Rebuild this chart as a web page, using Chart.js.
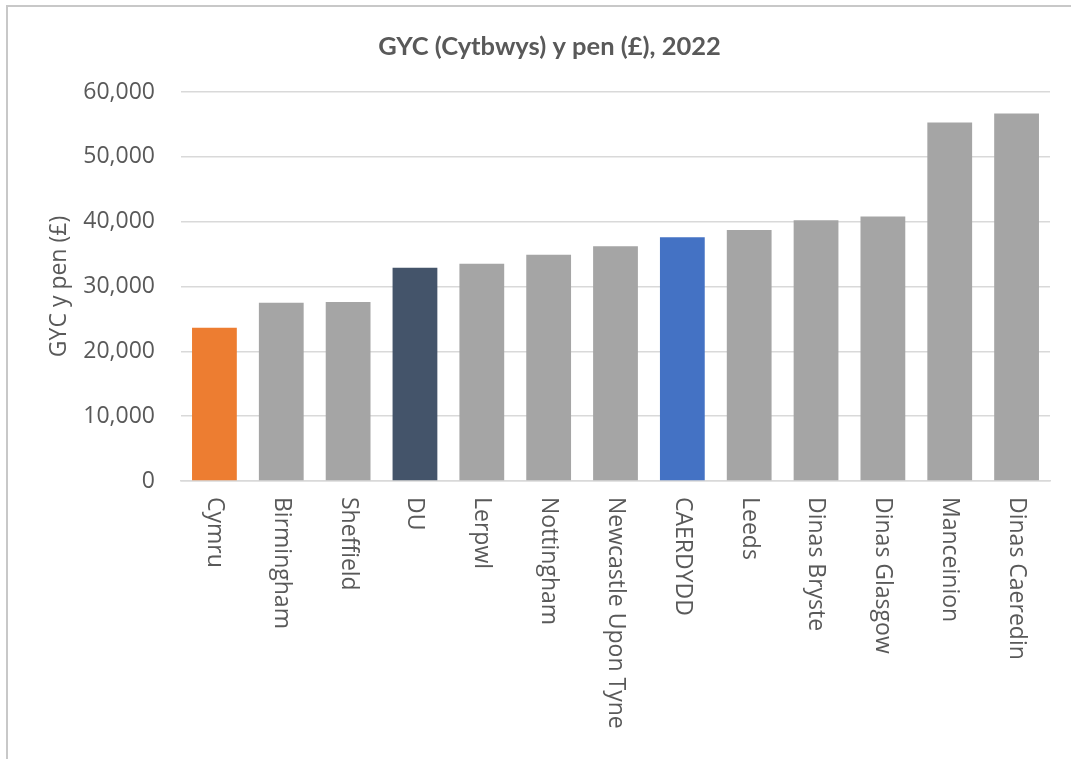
<!DOCTYPE html>
<html>
<head>
<meta charset="utf-8">
<script src="https://cdn.jsdelivr.net/npm/chart.js@4"></script>
<style>
  html, body { margin: 0; background: #fff; overflow: hidden; }
  #box {
    position: absolute; left: 6px; top: 5px;
    width: 1083px; height: 800px;
    border: 2px solid #c8c8c8; background: #fff;
  }
  canvas { display: block; }
</style>
</head>
<body>
<div id="box"><canvas id="gvaChart" width="1083" height="752"></canvas></div>
<script>
// GYC (Cytbwys) y pen, 2022
const places = ['Cymru', 'Birmingham', 'Sheffield', 'DU', 'Lerpwl', 'Nottingham',
    'Newcastle Upon Tyne', 'CAERDYDD', 'Leeds', 'Dinas Bryste', 'Dinas Glasgow',
    'Manceinion', 'Dinas Caeredin'];
const gvaPerHead = [23650, 27500, 27600, 32900, 33500, 34900, 36200, 37600, 38700,
    40200, 40800, 55300, 56700];
const yTicks = [0, 10000, 20000, 30000, 40000, 50000, 60000];
const chartTitle = 'GYC (Cytbwys) y pen (£), 2022';

const textGrey = '#595959';
const barColours = places.map(function(p) {
    if (p === 'Cymru') return '#ed7d31';
    if (p === 'DU') return '#44546a';
    if (p === 'CAERDYDD') return '#4472c4';
    return '#a5a5a5';
});

// title is centred on the whole chart box, which runs past the window
// x labels read top-to-bottom, so those are drawn here too
const extraText = {
    id: 'extraText',
    afterDraw(chart) {
        const xs = chart.scales.x;
        const ctx = chart.ctx;
        ctx.save();
        ctx.fillStyle = textGrey;
        ctx.textBaseline = 'middle';

        ctx.font = 'bold 25.5px Lato';
        ctx.textAlign = 'center';
        ctx.fillText(chartTitle, chart.width / 2, 40);

        ctx.font = '23px "Open Sans"';
        ctx.textAlign = 'left';
        places.forEach(function(name, i) {
            ctx.save();
            ctx.translate(xs.getPixelForTick(i), xs.top + 16);
            ctx.rotate(Math.PI / 2);
            ctx.fillText(name, 0, 0);
            ctx.restore();
        });
        ctx.restore();
    }
};

new Chart(document.getElementById('gvaChart'), {
    type: 'bar',
    data: {
        labels: places,
        datasets: [{
            data: gvaPerHead,
            backgroundColor: barColours,
            barPercentage: 0.67,
            categoryPercentage: 1
        }]
    },
    options: {
        responsive: false,
        animation: false,
        layout: { padding: { top: 85, right: 41 } },
        plugins: {
            legend: { display: false },
            tooltip: { enabled: false },
            title: { display: false }
        },
        scales: {
            x: {
                ticks: { display: false },
                grid: { display: false, drawTicks: false },
                border: { color: '#d9d9d9', width: 1.5 },
                afterFit: function(s) { s.height = 278; }
            },
            y: {
                min: 0,
                max: 60000,
                afterBuildTicks: function(s) { s.ticks = yTicks.map(v => ({ value: v })); },
                afterFit: function(s) { s.width = 173; },
                ticks: {
                    color: textGrey,
                    font: { family: 'Open Sans', size: 23 },
                    padding: 26,
                    callback: v => v.toLocaleString('en-GB')
                },
                grid: { color: '#d9d9d9', lineWidth: 1.5, drawTicks: false },
                border: { display: false },
                title: {
                    display: true,
                    text: 'GYC y pen (£)',
                    color: textGrey,
                    font: { family: 'Open Sans', size: 23 },
                    padding: { top: 38 }
                }
            }
        }
    },
    plugins: [extraText]
});
</script>
</body>
</html>
